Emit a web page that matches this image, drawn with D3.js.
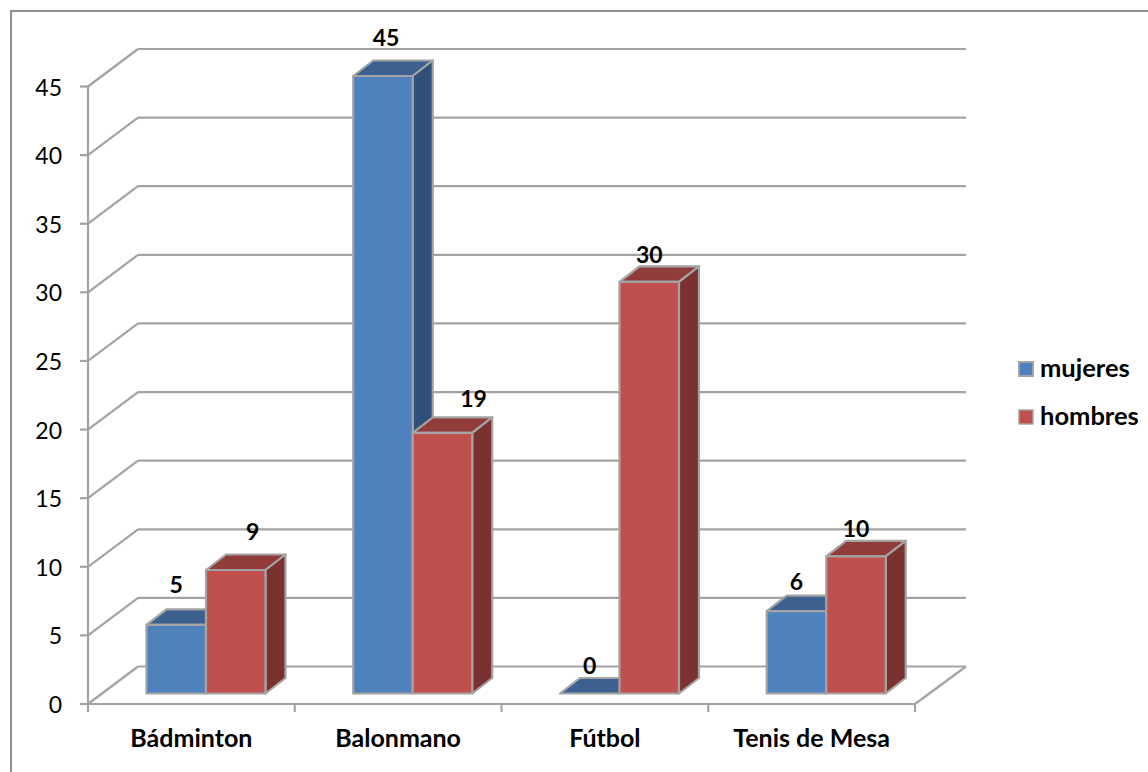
<!DOCTYPE html>
<html><head><meta charset="utf-8">
<script src="https://cdn.jsdelivr.net/npm/d3@7"></script>
<style>
html,body{margin:0;padding:0;background:#fff}
svg{display:block}
text{font-family:Lato,"Open Sans",sans-serif;fill:#000}
</style></head><body>
<svg id="c" width="1148" height="772"></svg>
<script>
const categories = ["Bádminton","Balonmano","Fútbol","Tenis de Mesa"];
const seriesNames = ["mujeres","hombres"];
const mujeres = [5,45,0,6];
const hombres = [9,19,30,10];
const yTicks = [0,5,10,15,20,25,30,35,40,45];
const colors = {mujeres:{front:"#4f81bd",top:"#3c6191",side:"#2f5079"},hombres:{front:"#c0504d",top:"#913c3a",side:"#7a312f"}};
const stroke = "#a3a3a3";
const wallDx = 50, wallDy = -37.5, barDx = 20, barDy = -15.5, floorDx = 14.6, floorDy = -10.5;
// hand-placed data label offsets from the centre of each bar's top edge
const labelNudge = {mujeres:[[0,-40],[3,-38],[0,-28],[0,-29]],hombres:[[17,-38],[31,-34],[0,-27],[0,-27]]};

const svg = d3.select("#c");
svg.append("rect").attr("x",11).attr("y",11).attr("width",1300).attr("height",900)
  .attr("fill","#fff").attr("stroke","#8f8f8f").attr("stroke-width",2);

const x = d3.scaleBand().domain(categories).range([88,915]);
const xs = d3.scaleBand().domain(seriesNames).range([-59.5,59.5]);
const y = d3.scaleLinear().domain([0,45]).range([704,86.5]);
const g = svg.append("g");
const line = (a,b,c,d,w=2.2)=>g.append("line").attr("x1",a).attr("y1",b).attr("x2",c).attr("y2",d)
  .attr("stroke",stroke).attr("stroke-width",w);

// walls
yTicks.forEach(t=>{
  line(x.range()[0],y(t),x.range()[0]+wallDx,y(t)+wallDy);
  line(x.range()[0]+wallDx,y(t)+wallDy,x.range()[1]+wallDx+1,y(t)+wallDy);
  line(x.range()[0]-8,y(t),x.range()[0],y(t));
  g.append("text").attr("x",62).attr("y",y(t)+9).attr("text-anchor","end")
    .attr("font-size",23).text(t);
});
line(x.range()[0],y(0),x.range()[0],y(45));
line(x.range()[0],y(0),x.range()[1],y(0));
line(x.range()[1],y(0),x.range()[1]+wallDx+1,y(0)+wallDy);
[...categories.map(c=>x(c)),x.range()[1]].forEach(v=>line(v,y(0),v,y(0)+8));

// bars
function bar(cat,name,val){
  const c = colors[name];
  const L = x(cat)+x.bandwidth()/2+floorDx+xs(name), R = L+xs.bandwidth();
  const B = y(0)+floorDy, T = y(val)+floorDy;
  const b = g.append("g").attr("stroke",stroke).attr("stroke-width",2.2).attr("stroke-linejoin","round");
  b.append("path").attr("d",`M${L},${T}L${L+barDx},${T+barDy}L${R+barDx},${T+barDy}L${R},${T}Z`).attr("fill",c.top);
  if(val>0){
    b.append("path").attr("d",`M${R},${T}L${R+barDx},${T+barDy}L${R+barDx},${B+barDy}L${R},${B}Z`).attr("fill",c.side);
    b.append("rect").attr("x",L).attr("y",T).attr("width",R-L).attr("height",B-T).attr("fill",c.front);
  }
}
categories.forEach((cat,i)=>{
  bar(cat,"mujeres",mujeres[i]);
  bar(cat,"hombres",hombres[i]);
});
// labels
categories.forEach((cat,i)=>{
  [["mujeres",mujeres[i]],["hombres",hombres[i]]].forEach(([n,v])=>{
    const [nx,ny] = labelNudge[n][i];
    const cx = x(cat)+x.bandwidth()/2+floorDx+xs(n)+xs.bandwidth()/2+nx;
    g.append("text").attr("x",cx).attr("y",y(v)+floorDy+ny+8).attr("text-anchor","middle")
      .attr("font-size",23).attr("font-weight",700).text(v);
  });
  g.append("text").attr("x",x(cat)+x.bandwidth()/2).attr("y",747).attr("text-anchor","middle")
    .attr("font-size",25).attr("font-weight",700).text(cat);
});
// legend
seriesNames.forEach((n,i)=>{
  const ly = 369+i*48;
  g.append("rect").attr("x",1019).attr("y",ly-7).attr("width",14).attr("height",14)
    .attr("fill",colors[n].front).attr("stroke",stroke).attr("stroke-width",i===0?2:1.4);
  g.append("text").attr("x",1040).attr("y",ly+8).attr("font-size",25.5).attr("font-weight",700).text(n);
});
</script></body></html>
